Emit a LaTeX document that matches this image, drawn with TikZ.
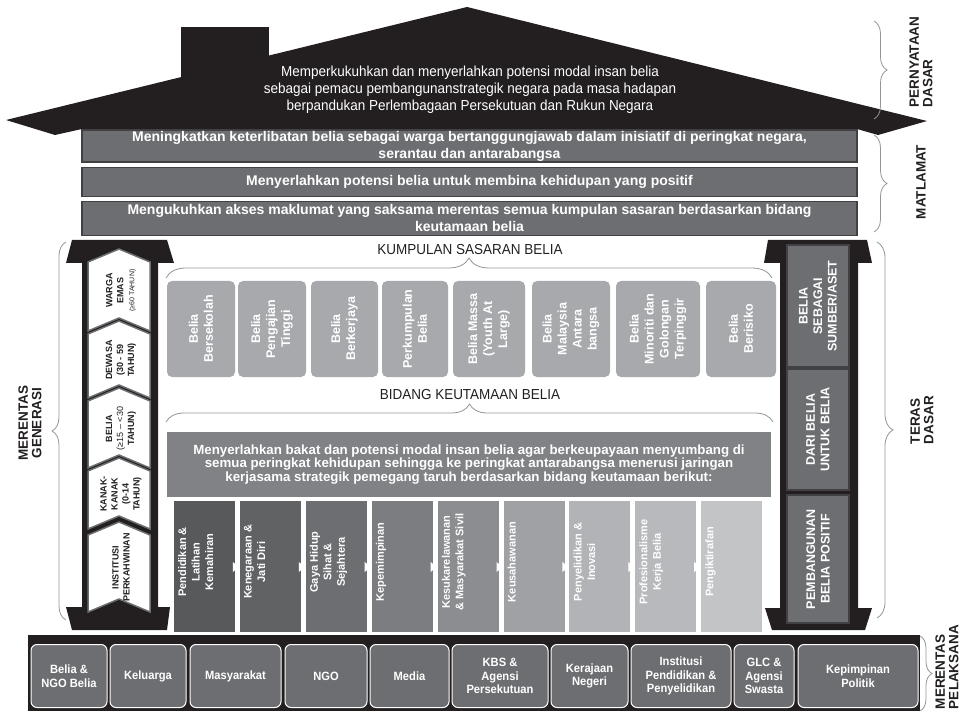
\documentclass[tikz,border=0pt]{standalone}
\usepackage{fontspec}
\setmainfont{Liberation Sans}
\newfontfamily\narrowfont[FakeStretch=0.93]{Liberation Sans}
\usetikzlibrary{positioning,calc,decorations.pathreplacing}

\definecolor{roofblack}{HTML}{231F20}
\definecolor{goalgray}{HTML}{6D6E71}
\definecolor{goaledge}{HTML}{414042}
\definecolor{descgray}{HTML}{808285}
\definecolor{groupgray}{HTML}{A7A9AC}
\definecolor{bracegray}{HTML}{939598}
\definecolor{area1}{HTML}{58595B}
\definecolor{area2}{HTML}{616264}
\definecolor{area3}{HTML}{6D6E71}
\definecolor{area4}{HTML}{7C7D80}
\definecolor{area5}{HTML}{8C8D90}
\definecolor{area6}{HTML}{A0A1A4}
\definecolor{area7}{HTML}{B2B3B6}
\definecolor{area8}{HTML}{B8B9BC}
\definecolor{area9}{HTML}{C3C4C6}

\begin{document}
\begin{tikzpicture}[x=1pt,y=-1pt,
  goalbox/.style={draw=goaledge,line width=1.2pt,fill=goalgray,text=white,minimum width=775pt,inner sep=1pt,align=center,font=\bfseries\fontsize{14}{17}\selectfont},
  chevron/.style={fill=white,draw=goalgray,line width=1.5pt},
  chevtext/.style={rotate=90,align=center,text=roofblack,inner sep=0pt,font=\bfseries\fontsize{9}{11}\selectfont},
  corebox/.style={rotate=90,draw=goaledge,line width=1.2pt,fill=goalgray,text=white,align=center,minimum height=62pt,font=\bfseries\fontsize{12.5}{14.5}\selectfont},
  groupbox/.style={rotate=90,fill=groupgray,rounded corners=5pt,text=white,align=center,minimum width=96pt,inner sep=2pt,font=\bfseries\fontsize{12.5}{15}\selectfont},
  headtext/.style={text=roofblack,font=\narrowfont\fontsize{14.5}{16}\selectfont},
  desctext/.style={fill=descgray,text=white,align=center,minimum width=604pt,minimum height=65pt,inner sep=1pt,font=\bfseries\fontsize{13.3}{13.5}\selectfont},
  areatext/.style={rotate=90,anchor=north,text=white,align=center,inner sep=1pt,font=\bfseries\fontsize{11}{13.5}\selectfont},
  agencybox/.style={fill=goalgray,draw=white,line width=1pt,rounded corners=6pt,text=white,align=center,minimum height=63pt,inner sep=1pt,font=\narrowfont\bfseries\fontsize{12}{13.5}\selectfont},
  bracket/.style={draw=bracegray,line width=0.8pt,decorate},
  sidelabel/.style={rotate=90,align=left,text=roofblack,inner sep=0pt,font=\bfseries\fontsize{13.5}{13.5}\selectfont}]
\useasboundingbox (0,0) rectangle (969,711);

% roof and statement
\fill[roofblack] (181,27) rectangle (269,82);
\fill[roofblack] (6,120) -- (467,7) -- (927,121) -- (878,135) -- (857,129) -- (82,129) -- (55,135) -- cycle;
\node[text=white,align=center,font=\narrowfont\fontsize{14.5}{17}\selectfont] (statement) at (470,90)
  {Memperkukuhkan dan menyerlahkan potensi modal insan belia\\sebagai pemacu pembangunanstrategik negara  pada masa hadapan\\berpandukan  Perlembagaan  Persekutuan dan Rukun Negara};

% goals
\node[goalbox,minimum height=32pt] (goal1) at (469.5,146) {Meningkatkan keterlibatan belia sebagai warga bertanggungjawab dalam inisiatif di peringkat negara,\\serantau dan antarabangsa};
\node[goalbox,minimum height=29pt,below=4pt of goal1] (goal2) {Menyerlahkan potensi belia untuk membina kehidupan yang positif};
\node[goalbox,minimum height=34pt,below=4pt of goal2] (goal3) {Mengukuhkan akses maklumat yang saksama merentas semua kumpulan sasaran berdasarkan bidang\\keutamaan belia};

% left pillar: generations
\fill[roofblack] (72,240) -- (167,240) -- (174,263) -- (158,263) -- (158,607) -- (170,607) -- (167,630) -- (72,630) -- (66,607) -- (82,607) -- (82,263) -- (66,263) -- cycle;
\foreach \ys/\yb/\nm/\txt in {
  262/331/emas/{WARGA\\EMAS\\{\mdseries\fontsize{7}{9}\selectfont(≥60 TAHUN)}},
  334/398/dewasa/{DEWASA\\(30 - 59\\TAHUN)},
  401/468/belia/{BELIA\\{\mdseries(≥15 – <30}\\TAHUN)},
  471/529/kanak/{KANAK-\\KANAK\\(0-14\\TAHUN)},
  535/612/institusi/{INSTITUSI\\PERKAHWINAN}}{
  \filldraw[chevron] (88,\ys) -- (119,{\ys-13}) -- (150,\ys) -- (150,\yb) -- (119,{\yb-13}) -- (88,\yb) -- cycle;
  \node[chevtext] (\nm) at (121,{(\ys+\yb)/2-6}) {\txt};
}

% right pillar: core values
\fill[roofblack] (768,240) -- (867,240) -- (872,263) -- (858,263) -- (858,608) -- (872,608) -- (865,630) -- (772,630) -- (765,608) -- (780,608) -- (780,263) -- (764,263) -- cycle;
\node[corebox,minimum width=122pt] (core1) at (818,306) {BELIA\\SEBAGAI\\SUMBER/ASET};
\node[corebox,minimum width=121pt] (core2) at (818,429.5) {DARI BELIA\\UNTUK BELIA};
\node[corebox,minimum width=128pt] (core3) at (818,559) {PEMBANGUNAN\\BELIA POSITIF};

% target groups
\node[headtext] (kumpulan) at (470,250) {KUMPULAN SASARAN BELIA};
\draw[bracket,decoration={brace,amplitude=20pt}] (166,278) -- (772,278);
\foreach \xa/\xb/\txt [count=\i] in {
  167/235/{Belia\\Bersekolah},
  238/306/{Belia\\Pengajian\\Tinggi},
  311/378/{Belia\\Berkerjaya},
  382/448/{Perkumpulan\\Belia},
  453/525/{Belia Massa\\(Youth At\\Large)},
  532/610/{Belia\\Malaysia\\Antara\\bangsa},
  616/700/{Belia\\Minoriti dan\\Golongan\\Terpinggir},
  706/776/{Belia\\Berisiko}}{
  \node[groupbox,minimum height={(\xb-\xa)*1pt}] (group\i) at ({(\xa+\xb)/2},329) {\txt};
}

% priority areas
\node[headtext] (bidang) at (470,395) {BIDANG KEUTAMAAN BELIA};
\draw[bracket,decoration={brace,amplitude=18pt}] (166,422) -- (773,422);
\node[desctext] (desc) at (469,464.5) {Menyerlahkan bakat dan potensi modal insan belia agar berkeupayaan menyumbang di\\semua peringkat kehidupan sehingga ke peringkat antarabangsa menerusi jaringan\\kerjasama strategik pemegang taruh berdasarkan bidang keutamaan berikut:};
\foreach \txt [count=\i] in {
  {Pendidikan \&\\Latihan\\Kemahiran},
  {Kenegaraan \&\\Jati Diri},
  {Gaya Hidup\\Sihat \&\\Sejahtera},
  {Kepemimpinan},
  {Kesukarelawanan\\\& Masyarakat Sivil},
  {Keusahawanan},
  {Penyelidikan \&\\Inovasi},
  {Profesionalisme\\Kerja Belia},
  {Pengiktirafan}}{
  \pgfmathsetmacro\xl{174+(\i-1)*65.9}
  \fill[area\i] (\xl,501) rectangle ++(61,131);
  \node[areatext] (area\i) at ({\xl+3},562) {\txt};
}
\foreach \i in {1,...,8}{
  \fill[white] ({174+\i*65.9-7},562) -- ({174+\i*65.9-7},572) -- ({174+\i*65.9-1},567) -- cycle;
}

% implementers
\fill[roofblack] (28,635) rectangle (920,711);
\foreach \xa/\xb/\txt [count=\i] in {
  31/107/{Belia \&\\NGO Belia},
  110/186/{Keluarga},
  190/281/{Masyarakat},
  285/367/{NGO},
  370/449/{Media},
  452/548/{KBS \&\\Agensi\\Persekutuan},
  551/628/{Kerajaan\\Negeri},
  631/731/{Institusi\\Pendidikan \&\\Penyelidikan},
  734/794/{GLC \&\\Agensi\\Swasta},
  798/918/{Kepimpinan\\Politik}}{
  \node[agencybox,minimum width={(\xb-\xa)*1pt}] (agency\i) at ({(\xa+\xb)/2},676) {\txt};
}

% side labels
\draw[bracket,decoration={brace,amplitude=13pt}] (874,21) -- (874,119);
\node[sidelabel] (pernyataan) at (921,62) {PERNYATAAN\\DASAR};
\draw[bracket,decoration={brace,amplitude=13pt}] (874,135) -- (874,232);
\node[sidelabel] (matlamat) at (921,182) {MATLAMAT};
\draw[bracket,decoration={brace,amplitude=16pt}] (877,242) -- (877,618);
\node[sidelabel] (teras) at (922,420) {TERAS\\DASAR};
\draw[bracket,decoration={brace,amplitude=12pt}] (920,636) -- (920,711);
\node[sidelabel] (pelaksana) at (947,667) {MERENTAS\\PELAKSANA};
\draw[bracket,decoration={brace,amplitude=14pt}] (66,620) -- (66,242);
\node[sidelabel,align=center] (generasi) at (30,423) {MERENTAS\\GENERASI};
\end{tikzpicture}
\end{document}
